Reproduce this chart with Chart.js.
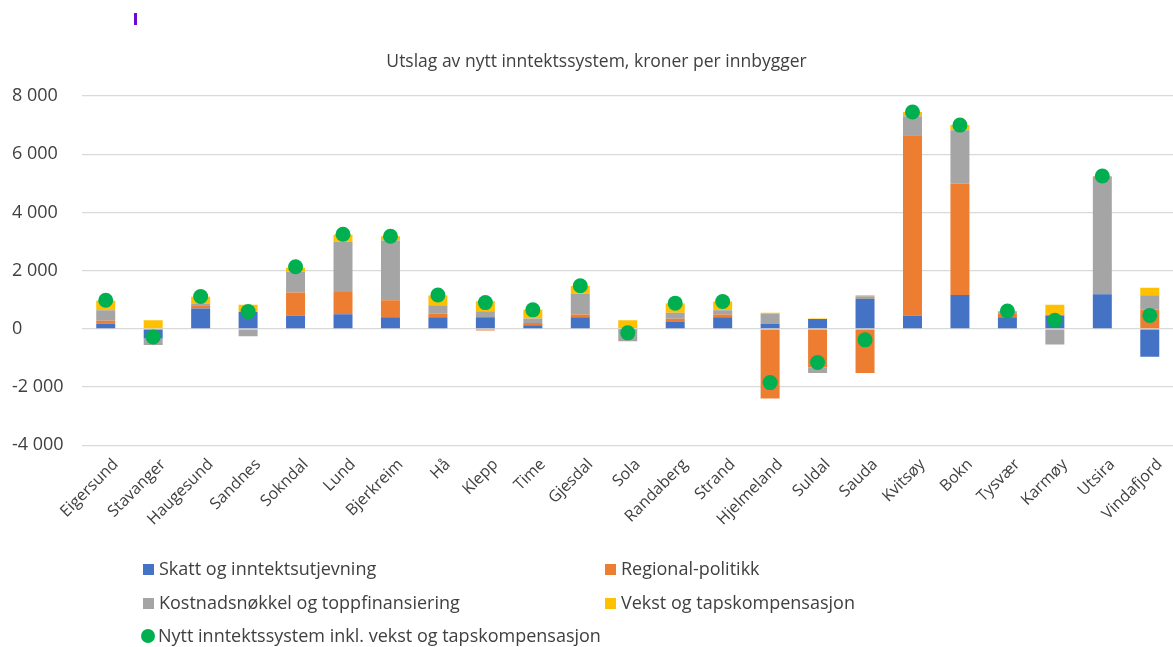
<!DOCTYPE html>
<html>
<head>
<meta charset="utf-8">
<script src="https://cdn.jsdelivr.net/npm/chart.js@4/dist/chart.umd.min.js"></script>
<style>
  html, body { margin: 0; padding: 0; background: #fff; overflow: hidden; }
  #wrap { position: relative; width: 1173px; height: 647px; overflow: hidden; font-family: "Open Sans", sans-serif; }
  #mark { position: absolute; left: 134px; top: 13px; width: 3px; height: 12px; background: #6a0dd0; }
  #legend { position: absolute; left: 0; top: 0; width: 1173px; height: 647px; pointer-events: none; }
  .item { position: absolute; font-size: 18px; color: #404040; white-space: nowrap; line-height: 20px; }
  .sw { display: inline-block; width: 11px; height: 11px; margin-right: 5px; vertical-align: 0px; }
  .dot { border-radius: 50%; width: 14px; height: 14px; margin-right: 3px; vertical-align: -1px; }
</style>
</head>
<body>
<div id="wrap">
  <canvas id="c" width="1181" height="647"></canvas>
  <div id="mark"></div>
  <div id="legend"></div>
</div>
<script>
'use strict';

const kommuner = ['Eigersund', 'Stavanger', 'Haugesund', 'Sandnes', 'Sokndal', 'Lund', 'Bjerkreim',
                  'Hå', 'Klepp', 'Time', 'Gjesdal', 'Sola', 'Randaberg', 'Strand', 'Hjelmeland',
                  'Suldal', 'Sauda', 'Kvitsøy', 'Bokn', 'Tysvær', 'Karmøy', 'Utsira', 'Vindafjord'];

const skatt     = [170, -330, 695, 575, 450, 500, 400, 400, 400, 120, 400, -60, 230, 400, 160, 340, 1020, 450, 1160, 400, 460, 1190, -960];
const regional  = [110, 0, 115, 0, 800, 760, 580, 120, -60, 80, 90, 0, 115, 95, -2400, -1330, -1520, 6200, 3820, 120, 20, 0, 660];
const kostnad   = [360, -230, 40, -255, 710, 1740, 2050, 290, 200, 150, 720, -370, 210, 140, 360, -190, 100, 650, 1840, 60, -540, 4040, 495];
const vekst     = [320, 290, 250, 255, 140, 230, 150, 330, 350, 300, 260, 290, 310, 300, 30, 15, 30, 150, 180, 30, 350, 20, 255];
const nytt      = [980, -280, 1110, 590, 2130, 3250, 3180, 1160, 900, 650, 1480, -140, 880, 940, -1850, -1160, -380, 7450, 7000, 610, 290, 5250, 460];

const yTicks = [-4000, -2000, 0, 2000, 4000, 6000, 8000];

const legendItems = [
    { text: 'Skatt og inntektsutjevning', color: '#4472C4', x: 143, y: 558 },
    { text: 'Regional-politikk', color: '#ED7D31', x: 605, y: 558 },
    { text: 'Kostnadsnøkkel og toppfinansiering', color: '#A5A5A5', x: 143, y: 592 },
    { text: 'Vekst og tapskompensasjon', color: '#FFC000', x: 605, y: 592 },
    { text: 'Nytt inntektssystem inkl. vekst og tapskompensasjon', color: '#00B050', x: 141, y: 625, dot: true }
];

const fmt = v => (v < 0 ? '-' : '') + Math.abs(v).toLocaleString('en-US').replace(/,/g, ' ');

const bar = (label, data, color) => ({
    type: 'bar', label, data, backgroundColor: color, stack: 's',
    barPercentage: 0.4, categoryPercentage: 1, order: 2
});

// lerretet er 8 px bredere enn vinduet: punktene gir 8 px ekstra marg til høyre
new Chart(document.getElementById('c').getContext('2d'), {
    data: {
        labels: kommuner,
        datasets: [
            { type: 'line', label: 'Nytt inntektssystem inkl. vekst og tapskompensasjon', data: nytt,
              showLine: false, pointRadius: 7.5, pointHoverRadius: 7.5,
              pointBackgroundColor: '#00B050', pointBorderWidth: 0, order: 1 },
            bar('Skatt og inntektsutjevning', skatt, '#4472C4'),
            bar('Regional-politikk', regional, '#ED7D31'),
            bar('Kostnadsnøkkel og toppfinansiering', kostnad, '#A5A5A5'),
            bar('Vekst og tapskompensasjon', vekst, '#FFC000')
        ]
    },
    options: {
        responsive: false,
        animation: false,
        layout: { padding: { left: 12, right: 0, top: 0, bottom: 116 } },
        plugins: {
            legend: { display: false },
            tooltip: { enabled: false },
            title: { display: true, text: 'Utslag av nytt inntektssystem, kroner per innbygger',
                     color: '#404040', font: { family: 'Open Sans', size: 17.5, weight: 'normal' },
                     padding: { top: 52, bottom: 23 } }
        },
        scales: {
            x: {
                stacked: true,
                grid: { display: false },
                border: { display: false },
                ticks: { color: '#404040', font: { family: 'Open Sans', size: 16 },
                         maxRotation: 45, minRotation: 45, autoSkip: false, padding: 2, labelOffset: 10 }
            },
            y: {
                stacked: true,
                min: -4000, max: 8000,
                afterBuildTicks: s => { s.ticks = yTicks.map(v => ({ value: v })); },
                afterFit: s => { s.width = 70; },
                grid: { color: '#d9d9d9', lineWidth: 1.2, drawTicks: false },
                border: { display: false },
                ticks: { color: '#404040', font: { family: 'Open Sans', size: 18 },
                         crossAlign: 'far', padding: 12, callback: v => fmt(v) }
            }
        }
    }
});

const leg = document.getElementById('legend');
legendItems.forEach(it => {
    const d = document.createElement('div');
    d.className = 'item';
    d.style.left = it.x + 'px';
    d.style.top = it.y + 'px';
    const sw = document.createElement('span');
    sw.className = 'sw' + (it.dot ? ' dot' : '');
    sw.style.background = it.color;
    d.appendChild(sw);
    d.appendChild(document.createTextNode(it.text));
    leg.appendChild(d);
});
</script>
</body>
</html>
